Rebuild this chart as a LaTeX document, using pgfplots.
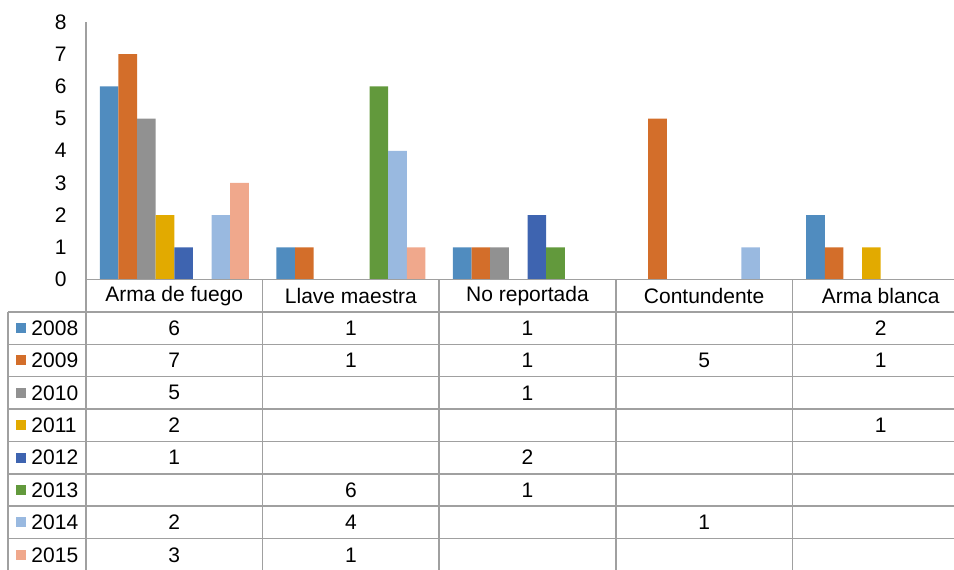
\documentclass[border=0pt]{standalone}
\usepackage{pgfplots}
\pgfplotsset{compat=1.18}
\usepackage{pgfplotstable}
\usepackage{fontspec}
\setmainfont{Liberation Sans}
\newcommand\fsz{\fontsize{10.5}{12.6}\selectfont}
\definecolor{c2008}{RGB}{80,140,191}
\definecolor{c2009}{RGB}{211,110,42}
\definecolor{c2010}{RGB}{145,145,145}
\definecolor{c2011}{RGB}{226,170,0}
\definecolor{c2012}{RGB}{62,100,176}
\definecolor{c2013}{RGB}{98,153,60}
\definecolor{c2014}{RGB}{153,185,224}
\definecolor{c2015}{RGB}{240,168,140}
\definecolor{gridc}{RGB}{160,160,160}
\pgfplotsset{/pgf/number format/assume math mode=true}

\pgfplotstableread{
cat y2008 y2009 y2010 y2011 y2012 y2013 y2014 y2015
0 6 7 5 2 1 nan 2 3
1 1 1 nan nan nan 6 4 1
2 1 1 1 nan 2 1 nan nan
3 nan 5 nan nan nan nan 1 nan
4 2 1 nan 1 nan nan nan nan
}\data

\newcommand\leg[2]{%
  \node[fill=c#2, minimum size=5pt, inner sep=0pt] at (axis cs:-0.368,#1.5) {};
  \node[anchor=west, inner sep=0pt] at (axis cs:-0.311,#1.5) {\fsz #2};}

\begin{document}
\begin{tikzpicture}
\begin{axis}[
  scale only axis, anchor=south west, at={(43pt,144.75pt)},
  width=441.5pt, height=128.75pt,
  xmin=0, xmax=5, ymin=0, ymax=8,
  axis lines=left, axis line style={gridc, line width=0.75pt, -},
  xtick=\empty, ytick={0,...,8}, major tick length=0pt,
  yticklabel style={anchor=east, inner sep=0pt, xshift=-9.5pt, font=\fsz},
  ybar=0pt, bar width=0.1055,
]
\addplot[fill=c2008, draw=none] table[x expr=\thisrow{cat}+0.5, y=y2008]{\data};
\addplot[fill=c2009, draw=none] table[x expr=\thisrow{cat}+0.5, y=y2009]{\data};
\addplot[fill=c2010, draw=none] table[x expr=\thisrow{cat}+0.5, y=y2010]{\data};
\addplot[fill=c2011, draw=none] table[x expr=\thisrow{cat}+0.5, y=y2011]{\data};
\addplot[fill=c2012, draw=none] table[x expr=\thisrow{cat}+0.5, y=y2012]{\data};
\addplot[fill=c2013, draw=none] table[x expr=\thisrow{cat}+0.5, y=y2013]{\data};
\addplot[fill=c2014, draw=none] table[x expr=\thisrow{cat}+0.5, y=y2014]{\data};
\addplot[fill=c2015, draw=none] table[x expr=\thisrow{cat}+0.5, y=y2015]{\data};
\end{axis}

\begin{axis}[
  scale only axis, anchor=south west, at={(43pt,-1pt)},
  width=441.5pt, height=145.75pt,
  xmin=0, xmax=5, ymin=0, ymax=9, y dir=reverse,
  axis lines=none, clip=false, ticks=none,
  tabval/.style={draw=none, mark=none,
    nodes near coords, point meta=explicit,
    every node near coord/.style={anchor=center, font=\fsz, text=black}},
]
\draw[gridc, line width=0.75pt] (axis cs:0,0) -- (axis cs:5,0);
\pgfplotsinvokeforeach{1,...,9}{\draw[gridc, line width=0.75pt] (axis cs:-0.4417,#1) -- (axis cs:5,#1);}
\pgfplotsinvokeforeach{0,...,5}{\draw[gridc, line width=0.75pt] (axis cs:#1,0) -- (axis cs:#1,9);}
\draw[gridc, line width=0.75pt] (axis cs:-0.4417,1) -- (axis cs:-0.4417,9);
\node at (axis cs:0.5,0.5) {\fsz Arma de fuego};
\node at (axis cs:1.5,0.5) {\fsz Llave maestra};
\node at (axis cs:2.5,0.5) {\fsz No reportada};
\node at (axis cs:3.5,0.5) {\fsz Contundente};
\node at (axis cs:4.5,0.5) {\fsz Arma blanca};
\leg{1}{2008}\leg{2}{2009}\leg{3}{2010}\leg{4}{2011}
\leg{5}{2012}\leg{6}{2013}\leg{7}{2014}\leg{8}{2015}
\addplot[tabval] table[x expr=\thisrow{cat}+0.5, y expr={\thisrow{y2008}/\thisrow{y2008}+0.5}, meta=y2008]{\data};
\addplot[tabval] table[x expr=\thisrow{cat}+0.5, y expr={\thisrow{y2009}/\thisrow{y2009}+1.5}, meta=y2009]{\data};
\addplot[tabval] table[x expr=\thisrow{cat}+0.5, y expr={\thisrow{y2010}/\thisrow{y2010}+2.5}, meta=y2010]{\data};
\addplot[tabval] table[x expr=\thisrow{cat}+0.5, y expr={\thisrow{y2011}/\thisrow{y2011}+3.5}, meta=y2011]{\data};
\addplot[tabval] table[x expr=\thisrow{cat}+0.5, y expr={\thisrow{y2012}/\thisrow{y2012}+4.5}, meta=y2012]{\data};
\addplot[tabval] table[x expr=\thisrow{cat}+0.5, y expr={\thisrow{y2013}/\thisrow{y2013}+5.5}, meta=y2013]{\data};
\addplot[tabval] table[x expr=\thisrow{cat}+0.5, y expr={\thisrow{y2014}/\thisrow{y2014}+6.5}, meta=y2014]{\data};
\addplot[tabval] table[x expr=\thisrow{cat}+0.5, y expr={\thisrow{y2015}/\thisrow{y2015}+7.5}, meta=y2015]{\data};
\end{axis}
\pgfresetboundingbox
\path (0,0) rectangle (477pt,284.5pt);
\end{tikzpicture}
\end{document}
